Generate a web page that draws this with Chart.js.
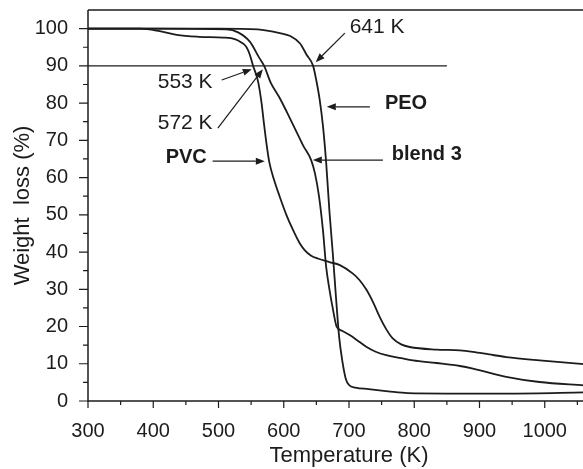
<!DOCTYPE html>
<html>
<head>
<meta charset="utf-8">
<title>TGA curves</title>
<script src="https://cdn.jsdelivr.net/npm/chart.js@4.4.1/dist/chart.umd.min.js"></script>
<style>
  html, body { margin: 0; padding: 0; background: #fff; overflow: hidden; }
  #wrap { width: 620px; height: 469px; }
</style>
</head>
<body>
<div id="wrap"><canvas id="tga" width="620" height="469"></canvas></div>
<script>
// --- data (temperature in K, weight in %) ---
const peoTemp = [300, 400, 500, 560, 594, 610, 625, 635, 645, 650, 655, 660, 665, 670, 675, 680, 685, 690, 695, 700, 710, 730, 760, 790, 850, 950, 1060];
const peoWeight = [100, 100, 100, 99.8, 98.8, 98, 96, 93, 90, 86, 81, 74, 64, 51, 40, 28, 17, 10.5, 6, 4.3, 3.6, 3.2, 2.6, 2.1, 2, 2, 2.3];

const pvcTemp = [300, 380, 410, 436, 470, 507, 525, 535, 543, 548, 553, 557, 561, 566, 570, 574, 578, 585, 594, 604, 614, 624, 632, 642, 653, 670, 686, 706, 716, 727, 737, 747, 757, 767, 780, 793, 834, 870, 890, 915, 941, 992, 1060];
const pvcWeight = [100, 100, 99.3, 98.3, 97.8, 97.6, 97.2, 96.3, 95, 93, 90, 88, 85.5, 80, 74, 68.5, 64, 59.5, 54.8, 50, 46, 42.5, 40.5, 39, 38.2, 37.3, 36.5, 34.2, 32.5, 29.8, 26.5, 22.6, 19.3, 16.8, 15.2, 14.5, 13.8, 13.6, 13.2, 12.5, 11.8, 10.9, 9.9];

const blendTemp = [300, 400, 512, 530, 548, 563, 570, 580, 594, 605, 619, 630, 642, 648, 654, 660, 665, 670, 675, 681, 690, 701, 715, 727, 740, 757, 780, 798, 834, 870, 890, 941, 992, 1060];
const blendWeight = [100, 100, 99.8, 99, 96.5, 92, 90, 85.5, 81.3, 77.5, 72.5, 68.5, 64.7, 61, 55, 46, 36, 30, 25, 20, 18.8, 17.7, 16, 14.5, 13.3, 12.3, 11.5, 10.9, 10.2, 9.4, 8.7, 6.5, 5.1, 4.2];

// 90 % reference line
const refTemp = [300, 850];
const refWeight = [90, 90];

const xTicks = [300, 400, 500, 600, 700, 800, 900, 1000, 1100];
const yTicks = [0, 10, 20, 30, 40, 50, 60, 70, 80, 90, 100];

// labels + arrows, in data coordinates
const noteText = ['641 K', '553 K', '572 K', 'PVC', 'PEO', 'blend 3'];
const noteBold = [false, false, false, true, true, true];
const noteAlign = ['left', 'right', 'right', 'right', 'left', 'left'];
const noteAt = [[701, 100.5], [491, 85.7], [491, 74.6], [482, 65.5], [755, 80], [765.5, 66.3]];
const arrowFrom = [[693.6, 98.8], [505, 86.2], [499, 73.3], [491, 64.4], [732, 79], [752, 64.7]];
const arrowTo = [[649, 91], [551, 89.1], [568, 89.1], [571, 64.4], [666, 79], [644.5, 64.7]];

const INK = '#1c1c1c';
const FONT = "'Liberation Sans', Arial, sans-serif";

const pairs = (xs, ys) => xs.map((v, i) => ({ x: v, y: ys[i] }));

function curve(label, xs, ys, width) {
    return {
        label,
        data: pairs(xs, ys),
        borderColor: INK,
        borderWidth: width,
        pointRadius: 0,
        fill: false,
        cubicInterpolationMode: 'monotone'
    };
}

// no edge padding for tick labels, the plot box is fixed
function noPad(s) {
    s.paddingLeft = 0; s.paddingRight = 0;
    s.paddingTop = 0; s.paddingBottom = 0;
}

// axes, frame, major/minor ticks
const framePlugin = {
    id: 'frame',
    afterDraw(chart) {
        const { ctx, chartArea: a, scales: { x, y } } = chart;
        ctx.save();
        ctx.strokeStyle = INK;
        ctx.lineWidth = 1.5;
        ctx.beginPath();
        ctx.moveTo(a.left, a.top); ctx.lineTo(a.right, a.top);
        ctx.lineTo(a.right, a.bottom); ctx.lineTo(a.left, a.bottom);
        ctx.lineTo(a.left, a.top);
        ctx.stroke();

        ctx.lineWidth = 1.2;
        ctx.beginPath();
        yTicks.forEach(v => {
            const py = y.getPixelForValue(v);
            ctx.moveTo(a.left - 9, py); ctx.lineTo(a.left, py);
            if (v + 5 < y.max) {
                const pm = y.getPixelForValue(v + 5);
                ctx.moveTo(a.left - 5, pm); ctx.lineTo(a.left, pm);
            }
        });
        xTicks.forEach(v => {
            const px = x.getPixelForValue(v);
            ctx.moveTo(px, a.bottom); ctx.lineTo(px, a.bottom + 7);
            if (v + 50 < x.max) {
                const pm = x.getPixelForValue(v + 50);
                ctx.moveTo(pm, a.bottom); ctx.lineTo(pm, a.bottom + 4);
            }
        });
        ctx.stroke();
        ctx.restore();
    }
};

// text labels with arrows
const notePlugin = {
    id: 'notes',
    afterDatasetsDraw(chart) {
        const { ctx, scales: { x, y } } = chart;
        ctx.save();
        ctx.fillStyle = INK;
        ctx.strokeStyle = INK;
        ctx.lineWidth = 1.2;
        ctx.textBaseline = 'middle';
        noteText.forEach((txt, i) => {
            ctx.font = (noteBold[i] ? 'bold 20px ' : '21px ') + FONT;
            ctx.textAlign = noteAlign[i];
            ctx.fillText(txt, x.getPixelForValue(noteAt[i][0]), y.getPixelForValue(noteAt[i][1]));

            const x0 = x.getPixelForValue(arrowFrom[i][0]), y0 = y.getPixelForValue(arrowFrom[i][1]);
            const x1 = x.getPixelForValue(arrowTo[i][0]), y1 = y.getPixelForValue(arrowTo[i][1]);
            const ang = Math.atan2(y1 - y0, x1 - x0);
            const len = 9, half = 3.5;
            const bx = x1 - len * Math.cos(ang), by = y1 - len * Math.sin(ang);
            ctx.beginPath();
            ctx.moveTo(x0, y0); ctx.lineTo(bx, by);
            ctx.stroke();
            ctx.beginPath();
            ctx.moveTo(x1, y1);
            ctx.lineTo(bx + half * Math.sin(ang), by - half * Math.cos(ang));
            ctx.lineTo(bx - half * Math.sin(ang), by + half * Math.cos(ang));
            ctx.closePath();
            ctx.fill();
        });
        ctx.restore();
    }
};

new Chart(document.getElementById('tga'), {
    type: 'line',
    data: {
        datasets: [
            curve('90 %', refTemp, refWeight, 1.3),
            curve('PVC', pvcTemp, pvcWeight, 1.8),
            curve('blend 3', blendTemp, blendWeight, 1.8),
            curve('PEO', peoTemp, peoWeight, 1.8)
        ]
    },
    options: {
        responsive: false,
        animation: false,
        devicePixelRatio: 1,
        layout: { padding: { left: 10, top: 10, right: 10, bottom: 0 } },
        plugins: {
            legend: { display: false },
            tooltip: { enabled: false }
        },
        scales: {
            x: {
                type: 'linear',
                min: 300,
                max: 1100,
                afterFit(s) { s.height = 68; noPad(s); },
                afterBuildTicks(s) { s.ticks = xTicks.map(v => ({ value: v })); },
                grid: { display: false },
                border: { display: false },
                ticks: { color: INK, padding: 10, maxRotation: 0, autoSkip: false, callback: v => String(v), font: { family: FONT, size: 20 } },
                title: { display: true, text: 'Temperature (K)', color: INK, padding: 0, font: { family: FONT, size: 22 } }
            },
            y: {
                type: 'linear',
                min: 0,
                max: 105,
                afterFit(s) { s.width = 78; noPad(s); },
                afterBuildTicks(s) { s.ticks = yTicks.map(v => ({ value: v })); },
                grid: { display: false },
                border: { display: false },
                ticks: { color: INK, padding: 12, autoSkip: false, callback: v => String(v), font: { family: FONT, size: 20 } },
                title: { display: true, text: 'Weight  loss (%)', color: INK, padding: 0, font: { family: FONT, size: 22 } }
            }
        }
    },
    plugins: [framePlugin, notePlugin]
});
</script>
</body>
</html>
